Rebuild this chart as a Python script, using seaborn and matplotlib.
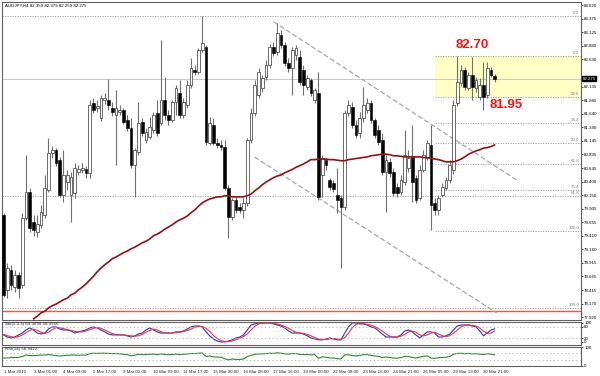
import matplotlib
matplotlib.use("Agg")
import matplotlib.pyplot as plt
import seaborn as sns
import numpy as np
import pandas as pd

# ---- data (AUDJPY H4, March 2010) ----
title = "AUDJPY,H4 82.359 82.379 82.259 82.275"

opens = [79.79, 78.42, 78.78, 78.47, 78.69, 78.51, 79.74, 80.21, 79.66, 79.48,
         79.61, 79.79, 80.25, 80.92, 80.98, 80.80, 80.16, 80.39, 80.16, 80.19,
         80.58, 80.61, 80.63, 80.56, 81.84, 81.75, 81.56, 81.89, 81.89, 81.75,
         81.62, 81.67, 81.71, 81.53, 81.38, 80.70, 80.94, 81.49, 81.16, 81.22,
         81.34, 81.65, 81.47, 81.89, 81.62, 81.53, 81.86, 82.02, 81.62, 81.80,
         82.17, 82.44, 82.40, 82.81, 82.86, 81.11, 81.43, 81.11, 81.07, 81.03,
         80.28, 79.75, 80.06, 79.94, 79.88, 80.01, 81.16, 81.65, 81.98, 82.11,
         82.31, 82.53, 82.86, 82.77, 83.08, 82.90, 82.57, 82.48, 82.71, 82.68,
         82.44, 82.13, 82.26, 81.89, 82.02, 80.52, 80.80, 80.43, 80.37, 80.16,
         80.10, 79.94, 81.65, 81.76, 81.43, 81.29, 81.56, 81.71, 81.84, 81.53,
         81.34, 81.16, 80.58, 80.76, 80.58, 80.30, 80.21, 80.39, 80.65, 80.85,
         80.47, 80.10, 80.61, 80.85, 81.07, 80.01, 79.88, 80.16, 80.28, 80.43,
         80.61, 81.84, 82.20, 82.44, 82.11, 82.35, 82.11, 81.95, 82.17, 81.98,
         82.44, 82.33]
highs = [79.83, 78.91, 78.88, 78.78, 78.75, 79.83, 80.89, 80.28, 79.79, 79.79,
         79.97, 80.52, 81.20, 81.05, 81.01, 80.85, 80.98, 80.61, 80.58, 80.74,
         80.70, 80.74, 80.69, 81.89, 81.93, 81.89, 81.98, 82.02, 82.27, 81.86,
         82.07, 81.80, 81.75, 81.62, 81.56, 81.01, 81.86, 81.56, 81.38, 81.58,
         81.67, 81.89, 82.99, 82.31, 81.71, 81.89, 82.17, 82.26, 81.93, 82.26,
         82.66, 82.53, 82.84, 83.43, 82.90, 81.58, 81.56, 81.20, 81.16, 81.16,
         80.34, 80.10, 80.12, 80.01, 80.10, 81.20, 81.75, 82.26, 82.48, 82.35,
         82.62, 82.92, 82.95, 83.30, 83.17, 82.95, 82.66, 82.86, 82.90, 82.81,
         82.53, 82.35, 82.29, 82.11, 82.40, 80.89, 80.83, 80.47, 80.43, 80.65,
         80.16, 81.71, 81.89, 81.86, 81.53, 81.67, 82.13, 81.93, 81.89, 81.56,
         81.43, 81.29, 80.89, 80.83, 80.65, 80.37, 80.52, 81.34, 80.98, 81.43,
         80.52, 80.70, 80.98, 81.16, 81.43, 80.10, 80.16, 80.37, 80.48, 80.80,
         81.89, 82.70, 82.53, 82.50, 82.40, 82.68, 82.31, 82.29, 82.59, 82.59,
         82.50, 82.37]
lows = [78.29, 78.27, 78.42, 78.38, 78.27, 78.45, 79.70, 79.48, 79.41, 79.39,
        79.55, 79.74, 80.21, 80.83, 80.69, 80.12, 80.03, 80.25, 79.66, 80.10,
        80.52, 80.56, 80.47, 80.47, 81.65, 81.67, 81.51, 81.82, 81.71, 81.60,
        80.70, 81.62, 81.45, 81.33, 80.65, 80.12, 80.89, 81.23, 81.11, 81.18,
        81.29, 81.23, 81.43, 81.53, 81.43, 81.49, 81.62, 81.56, 81.56, 81.75,
        82.11, 82.35, 82.37, 82.77, 81.07, 81.07, 81.07, 81.01, 80.98, 80.25,
        79.37, 79.70, 79.83, 79.83, 79.74, 79.95, 81.11, 81.60, 81.93, 82.04,
        82.26, 82.48, 82.70, 82.71, 82.84, 82.51, 82.40, 81.98, 82.62, 82.17,
        81.98, 82.07, 81.96, 81.84, 80.06, 80.12, 80.61, 80.25, 80.21, 79.83,
        78.82, 79.88, 81.60, 81.38, 81.20, 81.20, 81.49, 81.65, 81.47, 81.20,
        81.07, 80.52, 79.84, 80.48, 80.14, 80.12, 80.16, 80.34, 80.58, 80.03,
        80.01, 80.06, 80.58, 80.80, 79.52, 79.79, 79.79, 80.12, 80.25, 80.37,
        80.54, 81.78, 82.15, 82.07, 82.07, 81.89, 82.04, 81.89, 81.71, 81.93,
        82.31, 82.22]
closes = [78.33, 78.82, 78.51, 78.69, 78.45, 79.74, 80.21, 79.55, 79.52, 79.63,
          79.85, 80.28, 80.92, 80.98, 80.74, 80.16, 80.52, 80.52, 80.48, 80.65,
          80.63, 80.65, 80.56, 81.80, 81.71, 81.78, 81.93, 81.93, 81.80, 81.67,
          81.75, 81.71, 81.49, 81.38, 80.70, 80.98, 81.47, 81.29, 81.31, 81.40,
          81.62, 81.29, 81.89, 81.62, 81.53, 81.86, 82.11, 81.62, 81.86, 82.17,
          82.48, 82.40, 82.81, 82.93, 81.12, 81.47, 81.11, 81.07, 81.03, 80.28,
          79.75, 80.06, 79.88, 79.88, 80.01, 81.16, 81.65, 82.17, 82.40, 82.29,
          82.53, 82.86, 82.75, 83.12, 82.90, 82.57, 82.48, 82.81, 82.84, 82.22,
          82.17, 82.29, 82.02, 82.07, 80.12, 80.83, 80.70, 80.30, 80.27, 80.06,
          79.94, 81.65, 81.80, 81.43, 81.25, 81.56, 81.80, 81.84, 81.53, 81.25,
          81.12, 80.58, 80.80, 80.56, 80.19, 80.19, 80.43, 80.89, 80.83, 80.39,
          80.06, 80.61, 80.89, 81.11, 79.97, 79.88, 80.10, 80.30, 80.43, 80.70,
          81.80, 82.22, 82.44, 82.13, 82.35, 82.13, 82.26, 82.17, 81.95, 82.48,
          82.35, 82.275]

# moving average, first visible at bar 8
ma_start = 8
ma = [77.89, 77.94, 78.00, 78.03, 78.09, 78.13, 78.16, 78.20, 78.24, 78.27,
      78.33, 78.36, 78.42, 78.47, 78.53, 78.60, 78.67, 78.75, 78.82, 78.88,
      78.93, 78.99, 79.02, 79.06, 79.10, 79.13, 79.17, 79.20, 79.24, 79.28,
      79.31, 79.35, 79.41, 79.44, 79.48, 79.53, 79.57, 79.61, 79.66, 79.70,
      79.73, 79.77, 79.83, 79.88, 79.95, 80.01, 80.05, 80.08, 80.10, 80.12,
      80.12, 80.14, 80.14, 80.12, 80.12, 80.12, 80.12, 80.14, 80.17, 80.23,
      80.28, 80.34, 80.39, 80.43, 80.47, 80.50, 80.52, 80.56, 80.59, 80.62,
      80.66, 80.69, 80.72, 80.76, 80.80, 80.80, 80.81, 80.81, 80.81, 80.80,
      80.80, 80.79, 80.78, 80.78, 80.80, 80.81, 80.82, 80.83, 80.84, 80.85,
      80.87, 80.88, 80.89, 80.90, 80.90, 80.89, 80.87, 80.87, 80.86, 80.85,
      80.85, 80.85, 80.85, 80.85, 80.84, 80.83, 80.83, 80.81, 80.80, 80.78,
      80.76, 80.76, 80.76, 80.78, 80.81, 80.85, 80.90, 80.93, 80.96, 80.98,
      81.01, 81.02, 81.04, 81.07]

stoch_main = [37, 26, 21, 26, 37, 47, 63, 74, 63, 47, 42, 47, 68, 79, 79, 68,
              63, 63, 58, 47, 53, 58, 63, 74, 79, 74, 63, 53, 42, 37, 37, 37,
              37, 32, 26, 32, 42, 47, 63, 74, 63, 53, 47, 47, 47, 47, 53, 53,
              58, 68, 79, 84, 84, 79, 53, 32, 16, 5, 0, 0, 5, 11, 21, 26,
              37, 63, 89, 95, 100, 100, 100, 100, 95, 89, 84, 74, 58, 47, 47, 47,
              42, 32, 21, 16, 11, 11, 16, 21, 16, 11, 11, 47, 79, 100, 100, 95,
              95, 89, 79, 74, 58, 42, 26, 26, 26, 26, 37, 58, 63, 53, 37, 21,
              37, 53, 53, 47, 26, 26, 32, 42, 63, 84, 89, 89, 89, 84, 79, 58,
              32, 47, 63, 69.37]
stoch_signal = [40, 33, 28, 24, 28, 37, 49, 61, 67, 61, 51, 45, 52, 65, 75, 75,
                70, 65, 61, 56, 53, 53, 58, 65, 72, 76, 72, 63, 53, 44, 39, 37,
                37, 35, 32, 30, 33, 40, 51, 61, 67, 63, 54, 49, 47, 47, 49, 51,
                55, 60, 68, 77, 82, 82, 72, 55, 34, 18, 7, 2, 2, 5, 12, 19,
                28, 42, 63, 82, 95, 98, 100, 100, 98, 95, 89, 82, 72, 60, 51, 47,
                45, 40, 32, 23, 16, 13, 13, 16, 18, 16, 13, 23, 46, 75, 93, 98,
                96, 93, 88, 81, 70, 58, 42, 31, 26, 26, 30, 40, 53, 58, 51, 37,
                32, 37, 47, 51, 42, 33, 28, 33, 46, 63, 79, 87, 89, 87, 84, 74,
                56, 46, 47, 58.40]
rsi = [42, 42, 44, 45, 45, 50, 58, 55, 55, 56, 58, 58, 60, 58, 55, 52,
       55, 56, 58, 58, 57, 58, 58, 66, 68, 67, 68, 68, 67, 66, 66, 65,
       62, 60, 54, 57, 62, 60, 61, 62, 63, 60, 64, 61, 60, 61, 63, 60,
       62, 64, 66, 66, 68, 69, 50, 53, 48, 47, 46, 38, 31, 36, 34, 34,
       36, 50, 56, 62, 64, 64, 66, 68, 67, 70, 68, 65, 63, 66, 66, 61,
       60, 61, 59, 60, 40, 48, 46, 42, 42, 38, 37, 58, 60, 55, 53, 56,
       60, 60, 56, 53, 51, 44, 47, 45, 41, 41, 44, 51, 50, 45, 41, 47,
       51, 53, 41, 40, 43, 45, 46, 50, 62, 67, 68, 65, 67, 64, 65, 63,
       60, 65, 62, 58.94]

time_labels = ["1 Mar 2010", "3 Mar 01:00", "4 Mar 09:00", "5 Mar 17:00",
               "9 Mar 01:00", "10 Mar 09:00", "11 Mar 17:00", "15 Mar 00:00",
               "16 Mar 08:00", "17 Mar 16:00", "19 Mar 00:00", "22 Mar 08:00",
               "23 Mar 16:00", "24 Mar 21:00", "26 Mar 05:00", "29 Mar 13:00",
               "30 Mar 21:00"]
bars_per_label = 8

price_ticks = [83.620, 83.375, 83.125, 82.880, 82.630, 82.135, 81.885, 81.640,
               81.390, 81.145, 80.895, 80.645, 80.400, 80.150, 79.905, 79.655,
               79.410, 79.160, 78.915, 78.665, 78.415, 78.170, 77.920]
last_price = 82.275

# fibonacci levels drawn on the chart
fib_long_levels = [83.43, 80.14, 78.09]
fib_long_labels = ["0.0", "61.8", "100.0"]
fib_short_start = 115
fib_short_levels = [82.70, 81.95, 81.47, 81.11, 80.72, 80.25, 79.50]
fib_short_labels = ["0.0", "23.6", "38.2", "50.0", "61.8", "76.4", "100.0"]
red_level = 78.04

# channel (trend) lines: bar index / price end points
upper_x = [72.0, 136.8]
upper_y = [83.32, 80.43]
lower_x = [66.9, 131.5]
lower_y = [80.85, 78.00]

zone_top, zone_bottom = 82.70, 81.95

# ---- build the frames ----
df = pd.DataFrame({"open": opens, "high": highs, "low": lows, "close": closes})
df["bar"] = np.arange(len(df))
ma_df = pd.DataFrame({"bar": np.arange(ma_start, ma_start + len(ma)), "ma": ma})
ind = pd.DataFrame({"bar": np.arange(len(stoch_main)), "main": stoch_main,
                    "signal": stoch_signal, "rsi": rsi})

sns.set_style("white")
plt.rcParams["font.family"] = ["Liberation Sans", "DejaVu Sans"]
small = 3.2

fig = plt.figure(figsize=(6.0, 3.76), dpi=100)
W, H = 600.0, 376.0
left, right = 2 / W, 581 / W
ax = fig.add_axes([left, 1 - 320 / H, right - left, 318 / H])
ax_st = fig.add_axes([left, 1 - 345 / H, right - left, 23 / H], sharex=ax)
ax_rsi = fig.add_axes([left, 1 - 366 / H, right - left, 19 / H], sharex=ax)

xmax = (581 - 2) / 3.75
ax.set_xlim(-0.4, xmax - 0.4)
ax.set_ylim(77.87, 83.68)

# yellow zone
ax.axhspan(zone_bottom, zone_top, xmin=(fib_short_start + 0.4) / xmax, xmax=1,
           color="#ffffc4", zorder=0, lw=0)

# horizontal levels
grey = "#9a9a9a"
for lv, lb in zip(fib_long_levels, fib_long_labels):
    ax.axhline(lv, color=grey, ls=(0, (1.5, 1.5)), lw=0.6, zorder=1)
    ax.text(xmax - 0.9, lv + 0.02, lb, fontsize=small, color="#7a7a9a",
            ha="right", va="bottom")
for lv, lb in zip(fib_short_levels, fib_short_labels):
    ax.plot([fib_short_start, xmax], [lv, lv], color=grey,
            ls=(0, (1.5, 1.5)), lw=0.6, zorder=1)
    ax.text(xmax - 0.9, lv + 0.02, lb, fontsize=small, color="#7a7a9a",
            ha="right", va="bottom")
ax.axhline(last_price, color="#c8c8c8", lw=0.7, zorder=1)
ax.axhline(red_level, color="#ff5050", lw=1.0, zorder=1)

# channel lines
ax.plot(upper_x, upper_y, color="#a8a8a8", ls=(0, (4, 2)), lw=0.9, zorder=2)
ax.plot(lower_x, lower_y, color="#a8a8a8", ls=(0, (4, 2)), lw=0.9, zorder=2)

# candles
up = df[df.close >= df.open]
dn = df[df.close < df.open]
ax.vlines(df.bar, df.low, df.high, color="#707070", lw=0.8, zorder=3)
ax.bar(up.bar, up.close - up.open, bottom=up.open, width=0.7,
       color="white", edgecolor="#555555", linewidth=0.6, zorder=4)
ax.bar(dn.bar, dn.open - dn.close, bottom=dn.close, width=0.7,
       color="black", edgecolor="black", linewidth=0.4, zorder=4)

# moving average
sns.lineplot(data=ma_df, x="bar", y="ma", ax=ax, color="#9a1010", lw=1.2,
             zorder=5, legend=False)

# annotations
ax.text(125, 82.79, "82.70", color="#ff1010", fontsize=9.5, fontweight="bold",
        ha="center", va="bottom")
ax.text(134, 81.90, "81.95", color="#ff1010", fontsize=9.5, fontweight="bold",
        ha="center", va="top")
ax.text(0.5, 83.66, title, fontsize=small, color="black", ha="left", va="top")

# price axis on the right
for a in (ax, ax_st, ax_rsi):
    a.yaxis.tick_right()
    a.tick_params(axis="y", labelsize=small, length=1.5, width=0.5, pad=0.8,
                  colors="black")
    a.tick_params(axis="x", length=0)
    a.set_xlabel("")
    a.set_ylabel("")
    for s in a.spines.values():
        s.set_color("#606060")
        s.set_linewidth(0.8)
ax.set_yticks(price_ticks, [f"{p:.3f}" for p in price_ticks])
ax.text(1.003, (last_price - 77.87) / (83.68 - 77.87), f"{last_price:.3f}",
        transform=ax.transAxes, fontsize=small, color="white", ha="left",
        va="center", bbox=dict(boxstyle="square,pad=0.12", fc="black", ec="black"))
ax.tick_params(axis="x", labelbottom=False)

# stochastic
sns.lineplot(data=ind, x="bar", y="main", ax=ax_st, color="#3030c8", lw=0.8,
             legend=False)
sns.lineplot(data=ind, x="bar", y="signal", ax=ax_st, color="#ff3030", lw=0.8,
             legend=False)
ax_st.set_ylim(-16, 105)
for lv in (80, 20):
    ax_st.axhline(lv, color="#b0b0b0", ls=(0, (1.5, 3)), lw=0.6)
ax_st.set_yticks([100, 80, 20, 0], ["100", "80", "20", "0"])
ax_st.text(0.5, 104, "Sto(5,3,3) 69.3694 58.3966", fontsize=small, va="top")
ax_st.tick_params(axis="x", labelbottom=False)
ax_st.set_ylabel("")

# RSI
sns.lineplot(data=ind, x="bar", y="rsi", ax=ax_rsi, color="#2e8b2e", lw=0.8,
             legend=False)
ax_rsi.set_ylim(-2, 102)
for lv in (70, 30):
    ax_rsi.axhline(lv, color="#b0b0b0", ls=(0, (1.5, 3)), lw=0.6)
ax_rsi.set_yticks([100, 0], ["100", "0"])
ax_rsi.text(0.5, 100, "RSI(14) 58.9422", fontsize=small, va="top")
ax_rsi.set_ylabel("")
ax_rsi.set_xlabel("")

ticks = [i * bars_per_label for i in range(len(time_labels))]
ax_rsi.set_xticks(ticks)
ax_rsi.set_xticklabels(time_labels, fontsize=small, ha="left")
ax_rsi.tick_params(axis="x", length=2, width=0.5, pad=1, labelbottom=True)

fig.savefig("out.png", dpi=100, facecolor="white")
